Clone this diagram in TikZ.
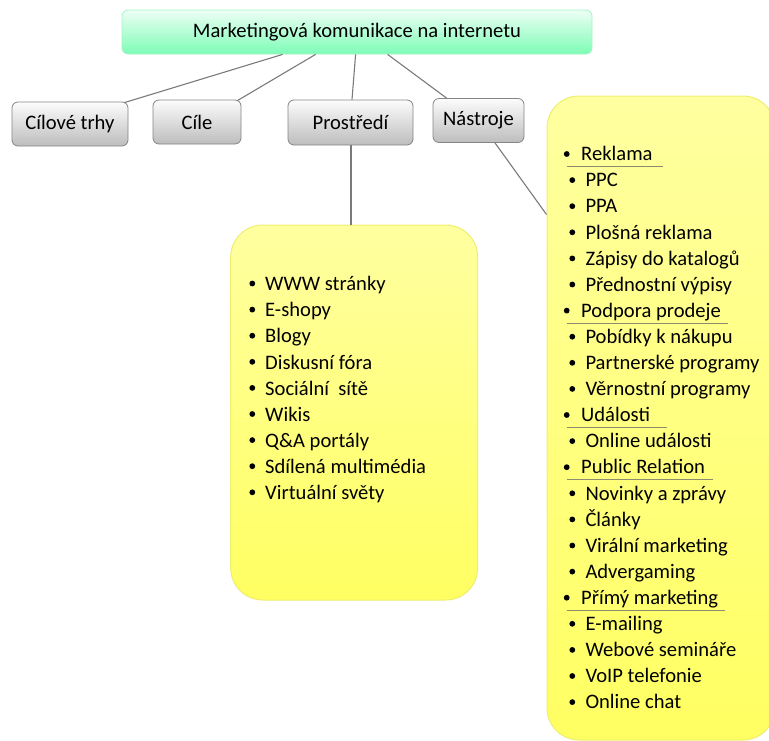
\documentclass[tikz,border=0pt]{standalone}
\usepackage{fontspec}
\setmainfont{Carlito}
\usetikzlibrary{calc}
\definecolor{rootTop}{HTML}{EDFFF5}
\definecolor{rootBot}{HTML}{7DFCB6}
\definecolor{rootLine}{HTML}{A6F2C6}
\definecolor{grayTop}{HTML}{FCFCFC}
\definecolor{grayBot}{HTML}{BDBDBD}
\definecolor{grayLine}{HTML}{858585}
\definecolor{yelTop}{HTML}{FFFFA0}
\definecolor{yelBot}{HTML}{FFFF62}
\definecolor{yelLine}{HTML}{EEEE70}
\definecolor{conn}{HTML}{7A7A7A}
\definecolor{uline}{HTML}{8C8C70}
\tikzset{
  rootbox/.style={draw=rootLine, line width=0.8pt, rounded corners=6pt, top color=rootTop, bottom color=rootBot, font=\fontsize{20.6}{24}\selectfont, inner sep=0pt},
  graybox/.style={draw=grayLine, line width=0.8pt, rounded corners=6pt, top color=grayTop, bottom color=grayBot, font=\fontsize{20.6}{24}\selectfont, inner sep=0pt},
  yelbox/.style={draw=yelLine, line width=1pt, top color=yelTop, bottom color=yelBot, inner sep=0pt},
  conline/.style={draw=conn, line width=1.1pt},
  item/.style={anchor=base west, inner sep=0pt, font=\fontsize{20.6}{24}\selectfont},
  ul/.style={draw=uline, line width=0.9pt},
}
\begin{document}
\begin{tikzpicture}[x=1pt,y=-1pt]
\useasboundingbox (0,0) rectangle (769,740);
\clip (0,0) rectangle (769,740);
% yellow boxes
\node[yelbox, rounded corners=32pt, minimum width=247pt, minimum height=375pt] (ly) at (354.2,412.5) {};
\node[yelbox, rounded corners=32pt, minimum width=228pt, minimum height=644pt] (ry) at (661,418) {};
% root and category boxes
\node[rootbox, minimum width=470pt, minimum height=44pt] (root) at (357,32) {Marketingová komunikace na internetu};
\node[graybox, minimum width=116pt, minimum height=44pt] (ct) at (70,124) {Cílové trhy};
\node[graybox, minimum width=88pt, minimum height=44pt] (cile) at (197,122) {Cíle};
\node[graybox, minimum width=125pt, minimum height=45pt] (pros) at (350.5,122.5) {Prostředí};
\node[graybox, minimum width=91pt, minimum height=44pt] (nas) at (478.5,120.5) {Nástroje};
% connectors
\draw[conline] ([xshift=161pt]root.south west) -- ([xshift=-4pt,yshift=-1pt]ct.north east);
\draw[conline] ([xshift=194pt]root.south west) -- ([xshift=-4pt,yshift=-1pt]cile.north east);
\draw[conline] ([xshift=234pt]root.south west) -- ([xshift=1.5pt]pros.north);
\draw[conline] ([xshift=266pt]root.south west) -- ([xshift=14pt]nas.north west);
\draw[conline] ([xshift=0.5pt]pros.south) -- ([xshift=0.5pt]pros.south |- ly.north);
\coordinate (nasend) at ($(ry.north west)+(0,119)$);
\draw[conline] ([xshift=16.5pt]nas.south) -- (nasend);
% left list
\foreach \t [count=\i from 0] in {WWW stránky,E-shopy,Blogy,Diskusní fóra,Sociální\ \ sítě,Wikis,Q\&A portály,Sdílená multimédia,Virtuální světy}{
  \node[item] (l\i) at (265,{290.7+26.1*\i}) {\t};
  \fill (252.3,{283.5+26.1*\i}) circle (2.9pt);
}
% right list
\foreach \t/\h/\w [count=\i from 0] in {Reklama/1/663,PPC/0/0,PPA/0/0,Plošná reklama/0/0,Zápisy do katalogů/0/0,Přednostní výpisy/0/0,Podpora prodeje/1/728,Pobídky k nákupu/0/0,Partnerské programy/0/0,Věrnostní programy/0/0,Události/1/667,Online události/0/0,Public Relation/1/713,Novinky a zprávy/0/0,Články/0/0,Virální marketing/0/0,Advergaming/0/0,Přímý marketing/1/725,E-mailing/0/0,Webové semináře/0/0,VoIP telefonie/0/0,Online chat/0/0}{
  \ifnum\h=1
    \node[item] (r\i) at (581,{160.7+26.1*\i}) {\t};
    \fill (566.7,{154+26.1*\i}) circle (2.9pt);
    \draw[ul] (566.7,{166.5+26.1*\i}) -- (\w,{166.5+26.1*\i});
  \else
    \node[item] (r\i) at (585.3,{160.7+26.1*\i}) {\t};
    \fill (572.3,{154+26.1*\i}) circle (2.9pt);
  \fi
}
\end{tikzpicture}
\end{document}
